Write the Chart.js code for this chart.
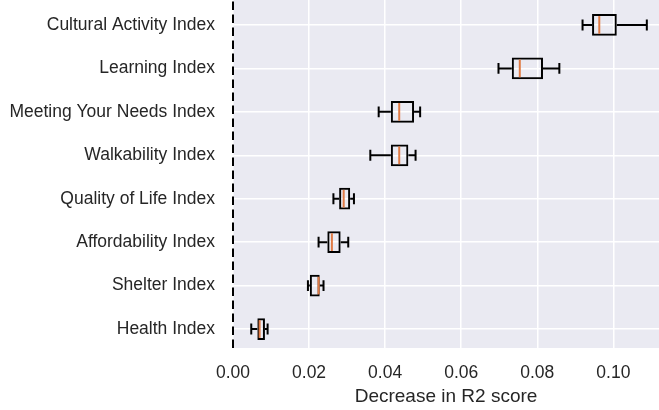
<!DOCTYPE html>
<html>
<head>
<meta charset="utf-8">
<script src="https://cdn.jsdelivr.net/npm/chart.js@4.4.1/dist/chart.umd.min.js"></script>
<style>
    html, body { margin: 0; padding: 0; background: #fff; }
</style>
</head>
<body>
<canvas id="chart" width="659" height="410"></canvas>
<script>
// =======================
// DATA
// =======================
const categories = [
    "Cultural Activity Index",
    "Learning Index",
    "Meeting Your Needs Index",
    "Walkability Index",
    "Quality of Life Index",
    "Affordability Index",
    "Shelter Index",
    "Health Index"
];
const whiskerLow  = [0.0919, 0.0698, 0.0383, 0.0361, 0.0264, 0.0225, 0.0197, 0.0048];
const q1          = [0.0944, 0.0733, 0.0415, 0.0415, 0.0279, 0.0248, 0.0202, 0.0064];
const median      = [0.0963, 0.0754, 0.0437, 0.0437, 0.0291, 0.0260, 0.0225, 0.0070];
const q3          = [0.1009, 0.0815, 0.0476, 0.0461, 0.0308, 0.0283, 0.0228, 0.0084];
const whiskerHigh = [0.1088, 0.0858, 0.0492, 0.0480, 0.0318, 0.0303, 0.0238, 0.0091];
const xTicks = [0, 0.02, 0.04, 0.06, 0.08, 0.10];
const xTitle = "Decrease in R2 score";

const textColor = "#262626";
const fontFamily = "'Liberation Sans', Arial, sans-serif";
const medianColor = "#e07b45";

// =======================
// PLUGIN: fondo + bigotes + medianas
// =======================
const boxPlot = {
    id: "boxPlot",
    beforeDraw(chart) {
        const { ctx, chartArea: a } = chart;
        ctx.save();
        ctx.fillStyle = "#eaeaf2";
        ctx.fillRect(a.left, a.top, a.right - a.left, a.bottom - a.top);
        ctx.restore();
    },
    beforeDatasetsDraw(chart) {
        const { ctx, chartArea: a, scales: { x } } = chart;
        const x0 = x.getPixelForValue(0);
        ctx.save();
        ctx.strokeStyle = "#000";
        ctx.lineWidth = 2;
        ctx.setLineDash([8.5, 4.5]);
        ctx.beginPath();
        ctx.moveTo(x0, a.bottom);
        ctx.lineTo(x0, a.top);
        ctx.stroke();
        ctx.restore();
    },
    afterDatasetsDraw(chart) {
        const { ctx, scales: { x, y } } = chart;
        ctx.save();
        ctx.lineWidth = 2;
        categories.forEach((c, i) => {
            const v = i + 1;
            const yc = y.getPixelForValue(v);
            const capA = y.getPixelForValue(v - 0.125);
            const capB = y.getPixelForValue(v + 0.125);

            ctx.strokeStyle = "#000";
            ctx.beginPath();
            ctx.moveTo(x.getPixelForValue(whiskerLow[i]), yc);
            ctx.lineTo(x.getPixelForValue(q1[i]), yc);
            ctx.moveTo(x.getPixelForValue(q3[i]), yc);
            ctx.lineTo(x.getPixelForValue(whiskerHigh[i]), yc);
            ctx.moveTo(x.getPixelForValue(whiskerLow[i]), capA);
            ctx.lineTo(x.getPixelForValue(whiskerLow[i]), capB);
            ctx.moveTo(x.getPixelForValue(whiskerHigh[i]), capA);
            ctx.lineTo(x.getPixelForValue(whiskerHigh[i]), capB);
            ctx.stroke();

            const mx = x.getPixelForValue(median[i]);
            ctx.strokeStyle = medianColor;
            ctx.beginPath();
            ctx.moveTo(mx, y.getPixelForValue(v - 0.25) + 2);
            ctx.lineTo(mx, y.getPixelForValue(v + 0.25) - 2);
            ctx.stroke();
        });
        ctx.restore();
    }
};

// =======================
// GRÁFICO
// =======================
new Chart(document.getElementById("chart").getContext("2d"), {
    type: "bar",
    data: {
        datasets: [{
            data: categories.map((c, i) => ({ x: [q1[i], q3[i]], y: i + 1 })),
            backgroundColor: "rgba(0,0,0,0)",
            borderColor: "#000",
            borderWidth: 2,
            borderSkipped: false,
            categoryPercentage: 0.5,
            barPercentage: 1
        }]
    },
    options: {
        indexAxis: "y",
        responsive: false,
        animation: false,
        layout: { padding: 0 },
        plugins: {
            legend: { display: false },
            tooltip: { enabled: false }
        },
        scales: {
            x: {
                type: "linear",
                position: "bottom",
                min: 0,
                max: 0.112,
                afterBuildTicks: s => { s.ticks = xTicks.map(v => ({ value: v })); },
                afterFit: s => { s.height = 62; s.paddingLeft = 0; s.paddingRight = 0; },
                grid: { color: "#ffffff", lineWidth: 1.5, drawTicks: false },
                border: { display: false },
                ticks: {
                    color: textColor,
                    padding: 15,
                    font: { family: fontFamily, size: 17.5 },
                    callback: v => Number(v).toFixed(2)
                },
                title: {
                    display: true,
                    text: xTitle,
                    color: textColor,
                    font: { family: fontFamily, size: 19 },
                    padding: { top: 0, bottom: 2 }
                }
            },
            y: {
                type: "linear",
                reverse: true,
                offset: false,
                min: 0.425,
                max: 8.437,
                afterBuildTicks: s => { s.ticks = categories.map((c, i) => ({ value: i + 1 })); },
                afterFit: s => { s.width = 233; s.paddingTop = 0; s.paddingBottom = 0; },
                grid: { color: "#ffffff", lineWidth: 1.5, drawTicks: false, offset: false },
                border: { display: false },
                ticks: {
                    color: textColor,
                    padding: 18,
                    autoSkip: false,
                    font: { family: fontFamily, size: 17.5 },
                    callback: (v, i) => categories[i]
                }
            }
        }
    },
    plugins: [boxPlot]
});
</script>
</body>
</html>
